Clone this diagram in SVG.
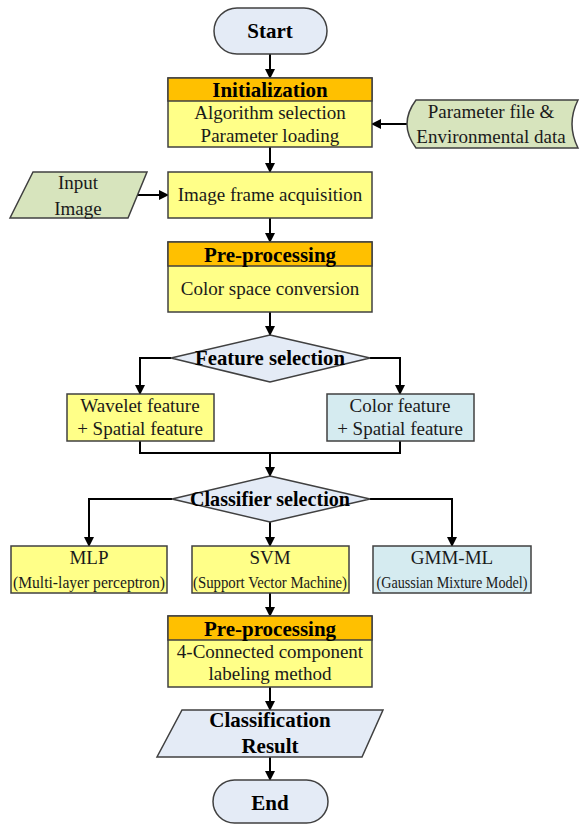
<svg xmlns="http://www.w3.org/2000/svg" width="583" height="824" viewBox="0 0 583 824">
<defs>
<marker id="ah" markerWidth="10" markerHeight="10" refX="9" refY="5" orient="auto" markerUnits="userSpaceOnUse">
<path d="M0,0 L10,5 L0,10 Z" fill="#000"/>
</marker>
<style>
.sh{stroke:#404040;stroke-width:1.5}
.term{fill:#e4ebf6}
.yel{fill:#ffff88}
.org{fill:#ffc000}
.grn{fill:#d7e4bd}
.blu{fill:#d5ebf0}
.dia{fill:#e4ebf6}
text{font-family:"Liberation Serif","Times New Roman",serif;fill:#1a1a1a;text-anchor:middle}
.b{font-weight:bold;font-size:21px;fill:#000}
.t{font-size:19px}
.s{font-size:16px}
.c{fill:none;stroke:#000;stroke-width:2}
</style>
</defs>
<g id="connectors">
<line class="c" x1="270" y1="54" x2="270" y2="78" marker-end="url(#ah)"/>
<line class="c" x1="407" y1="124" x2="372" y2="124" marker-end="url(#ah)"/>
<line class="c" x1="270" y1="147" x2="270" y2="172" marker-end="url(#ah)"/>
<line class="c" x1="137" y1="195" x2="168" y2="195" marker-end="url(#ah)"/>
<line class="c" x1="270" y1="218" x2="270" y2="242" marker-end="url(#ah)"/>
<line class="c" x1="270" y1="312" x2="270" y2="335" marker-end="url(#ah)"/>
<polyline class="c" points="171,358 140,358 140,394" marker-end="url(#ah)"/>
<polyline class="c" points="370,358 400,358 400,394" marker-end="url(#ah)"/>
<polyline class="c" points="140,441 140,453 400,453 400,441"/>
<line class="c" x1="270" y1="453" x2="270" y2="476" marker-end="url(#ah)"/>
<polyline class="c" points="172,499 89,499 89,546" marker-end="url(#ah)"/>
<polyline class="c" points="370,499 452,499 452,546" marker-end="url(#ah)"/>
<line class="c" x1="270" y1="522" x2="270" y2="546" marker-end="url(#ah)"/>
<line class="c" x1="270" y1="593" x2="270" y2="616" marker-end="url(#ah)"/>
<line class="c" x1="270" y1="687" x2="270" y2="710" marker-end="url(#ah)"/>
<line class="c" x1="270" y1="757" x2="270" y2="780" marker-end="url(#ah)"/>
</g>
<g id="start">
<rect class="sh term" x="214" y="8" width="113" height="46" rx="23"/>
<text class="b" x="270" y="38">Start</text>
</g>
<g id="init">
<rect class="sh yel" x="168" y="78" width="204" height="69"/>
<rect class="sh org" x="168" y="78" width="204" height="23"/>
<text class="b" x="270" y="97">Initialization</text>
<text class="t" x="270" y="119">Algorithm selection</text>
<text class="t" x="270" y="142">Parameter loading</text>
</g>
<g id="param">
<path class="sh grn" d="M416,100 H578 Q566,124 578,148 H416 Q398,124 416,100 Z"/>
<text class="t" x="491" y="118">Parameter file &amp;</text>
<text class="t" x="491" y="143">Environmental data</text>
</g>
<g id="input">
<path class="sh grn" d="M33,172 H147 L128,218 H10 Z"/>
<text class="t" x="78" y="189">Input</text>
<text class="t" x="78" y="215">Image</text>
</g>
<g id="frame">
<rect class="sh yel" x="168" y="172" width="204" height="46"/>
<text class="t" x="270" y="201">Image frame acquisition</text>
</g>
<g id="pre1">
<rect class="sh yel" x="168" y="242" width="204" height="70"/>
<rect class="sh org" x="168" y="242" width="204" height="24"/>
<text class="b" x="270" y="262">Pre-processing</text>
<text class="t" x="270" y="295">Color space conversion</text>
</g>
<g id="feature">
<path class="sh dia" d="M270,335 L370,358 L270,382 L171,358 Z"/>
<text class="b" x="270" y="365" font-size="20" textLength="150" lengthAdjust="spacingAndGlyphs">Feature selection</text>
</g>
<g id="wavelet">
<rect class="sh yel" x="67" y="394" width="147" height="47"/>
<text class="t" x="140" y="412">Wavelet feature</text>
<text class="t" x="140" y="435">+ Spatial feature</text>
</g>
<g id="color">
<rect class="sh blu" x="327" y="394" width="147" height="47"/>
<text class="t" x="400" y="412">Color feature</text>
<text class="t" x="400" y="435">+ Spatial feature</text>
</g>
<g id="classifier">
<path class="sh dia" d="M270,476 L370,499 L270,522 L172,499 Z"/>
<text class="b" x="270" y="506" font-size="20" textLength="160" lengthAdjust="spacingAndGlyphs">Classifier selection</text>
</g>
<g id="mlp">
<rect class="sh yel" x="11" y="546" width="156" height="47"/>
<text class="t" x="89" y="564">MLP</text>
<text class="s" x="89" y="588" textLength="152" lengthAdjust="spacingAndGlyphs">(Multi-layer perceptron)</text>
</g>
<g id="svm">
<rect class="sh yel" x="192" y="546" width="157" height="47"/>
<text class="t" x="270" y="564">SVM</text>
<text class="s" x="270" y="588" textLength="154" lengthAdjust="spacingAndGlyphs">(Support Vector Machine)</text>
</g>
<g id="gmm">
<rect class="sh blu" x="373" y="546" width="158" height="47"/>
<text class="t" x="452" y="564">GMM-ML</text>
<text class="s" x="452" y="588" textLength="151" lengthAdjust="spacingAndGlyphs">(Gaussian Mixture Model)</text>
</g>
<g id="pre2">
<rect class="sh yel" x="168" y="616" width="204" height="71"/>
<rect class="sh org" x="168" y="616" width="204" height="24"/>
<text class="b" x="270" y="636">Pre-processing</text>
<text class="t" x="270" y="658">4-Connected component</text>
<text class="t" x="270" y="680">labeling method</text>
</g>
<g id="result">
<path class="sh dia" d="M182,710 H383 L362,757 H157 Z"/>
<text class="b" x="270" y="727" font-size="22">Classification</text>
<text class="b" x="270" y="753" font-size="22">Result</text>
</g>
<g id="end">
<rect class="sh term" x="213" y="780" width="115" height="43" rx="21.5"/>
<text class="b" x="270" y="810">End</text>
</g>
</svg>
